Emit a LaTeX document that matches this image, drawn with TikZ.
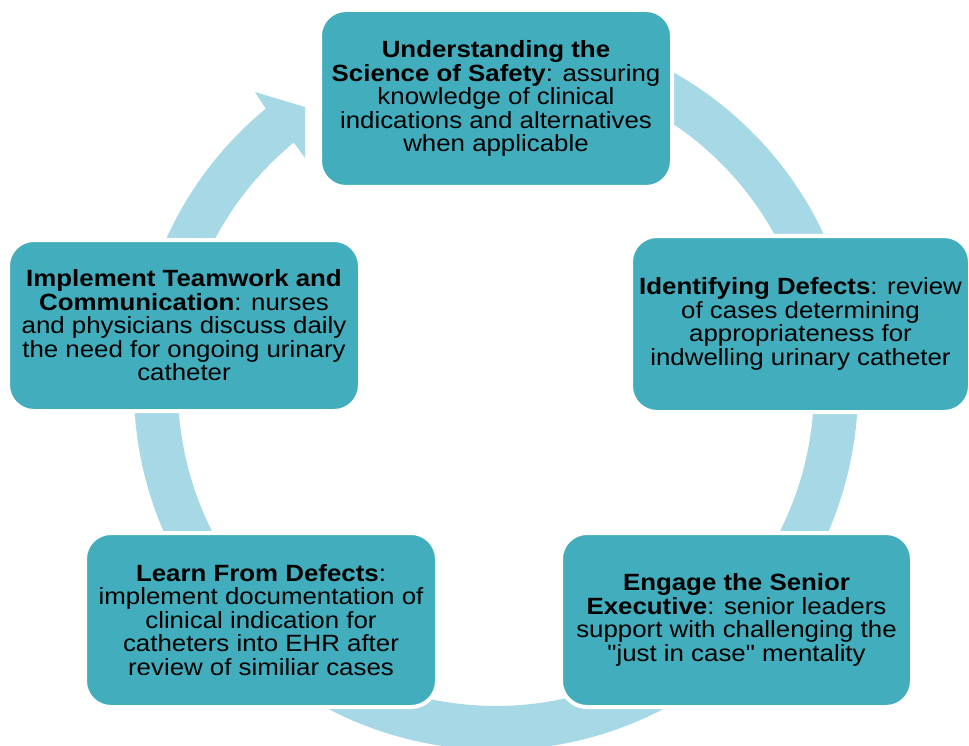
\documentclass[tikz,border=0pt]{standalone}
\usepackage{fontspec}
\setmainfont{Liberation Sans}[FakeStretch=1.1, Ligatures=TeXOff]
\definecolor{boxteal}{RGB}{65,173,189}
\definecolor{ringblue}{RGB}{167,216,229}
\begin{document}
\begin{tikzpicture}[x=1pt,y=-1pt,
  cyclebox/.style={fill=boxteal, draw=white, line width=4pt, rounded corners=26pt,
    align=center, inner sep=0pt, text=black,
    font=\fontsize{23.5}{23.5}\selectfont}]
\useasboundingbox (0,0) rectangle (969,746);
% ring arrow
\fill[ringblue] (496,388) ++(-80:362) arc[start angle=-80, end angle=230.5, radius=362]
  -- (255,92) -- (305,107) -- (305,158) -- (293.7,142.6)
  arc[start angle=230.5, end angle=-80, radius=318] -- cycle;
% boxes
\node[cyclebox, minimum width=352pt, minimum height=177pt] (top) at (496,98.5)
  {\textbf{Understanding the}\\\textbf{Science of Safety}: assuring\\knowledge of clinical\\indications and alternatives\\when applicable};
\node[cyclebox, minimum width=352pt, minimum height=171pt] (left) at (184,325.5)
  {\textbf{Implement Teamwork and}\\\textbf{Communication}: nurses\\and physicians discuss daily\\the need for ongoing urinary\\catheter};
\node[cyclebox, minimum width=339pt, minimum height=176pt] (right) at (800.5,324)
  {\textbf{Identifying Defects}: review\\of cases determining\\appropriateness for\\indwelling urinary catheter};
\node[cyclebox, minimum width=352pt, minimum height=174pt] (bl) at (261,620)
  {\textbf{Learn From Defects}:\\implement documentation of\\clinical indication for\\catheters into EHR after\\review of similiar cases};
\node[cyclebox, minimum width=351pt, minimum height=174pt] (br) at (736.5,620)
  {\textbf{Engage the Senior}\\\textbf{Executive}: senior leaders\\support with challenging the\\"just in case" mentality};
\end{tikzpicture}
\end{document}
